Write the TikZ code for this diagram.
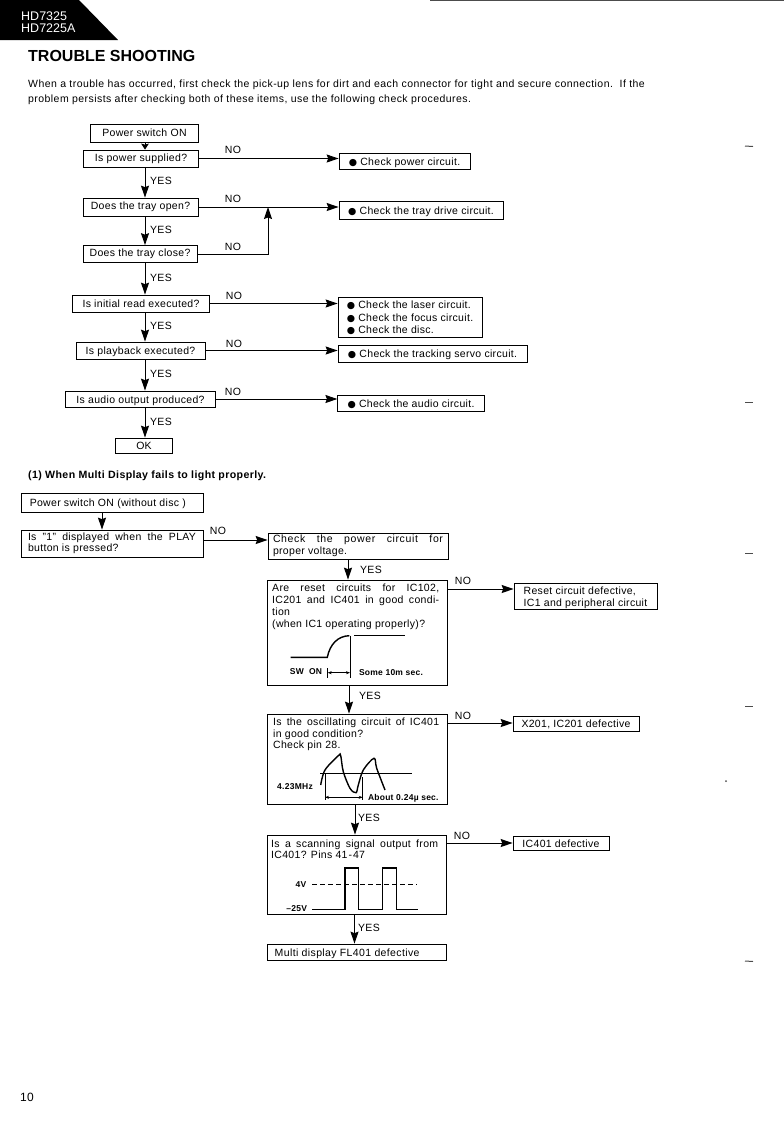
\documentclass[tikz,border=0pt]{standalone}
\usepackage{fontspec}
\setmainfont[LetterSpace=3]{Liberation Sans}
\newfontfamily\symfont{DejaVu Sans}
\newfontfamily\plainfont{Liberation Sans}
\newfontfamily\widefont[LetterSpace=6]{Liberation Sans}
\usetikzlibrary{arrows.meta}
\newcommand{\blt}{{\symfont\fontsize{9.5}{10}\selectfont ●}\ }
\newcommand{\fitline}[2]{\makebox[#1pt][s]{#2}}
\tikzset{
  box/.style={draw, line width=0.7pt, inner sep=0pt, align=center, font=\fontsize{10.5}{12}\selectfont},
  ans/.style={box, text height=9.5pt, text depth=1.5pt},
  boxtext/.style={inner sep=0pt, align=left, anchor=north west},
  lab/.style={inner sep=0pt, font=\fontsize{10.5}{12}\selectfont},
  smalllab/.style={inner sep=0pt, font=\fontsize{8.5}{10}\bfseries\selectfont},
  flow/.style={line width=1pt, -{Stealth[length=12pt,width=8pt,inset=1.5pt]}},
  shortflow/.style={line width=1pt, -{Stealth[length=6pt,width=7.5pt,inset=1pt]}},
  dim/.style={line width=0.6pt, {Stealth[length=4pt,width=3pt]}-{Stealth[length=4pt,width=3pt]}},
  wave/.style={line width=1.4pt},
  scanmark/.style={line width=1pt, black!70}
}
\begin{document}
\begin{tikzpicture}[x=1pt,y=-1pt]
\useasboundingbox (0,0) rectangle (784,1122);

% header
\fill[black] (0,0) -- (79,0) -- (118,40) -- (0,40) -- cycle;
\node[inner sep=0pt, align=left, anchor=west, text=white, font=\plainfont\fontsize{12.5}{11.5}\selectfont] (model) at (21,22) {HD7325\\HD7225A};
\node[inner sep=0pt, anchor=west, font=\plainfont\fontsize{16}{18}\bfseries\selectfont] (title) at (28,56) {TROUBLE SHOOTING};
\node[inner sep=0pt, anchor=north west, align=left, font=\fontsize{10.5}{15}\selectfont] (intro) at (28,79.5)
{\addfontfeature{LetterSpace=4.2}When a trouble has occurred, first check the pick-up lens for dirt and each connector for tight and secure connection.\ \ If the\\
\addfontfeature{LetterSpace=4.2}problem persists after checking both of these items, use the following check procedures.};

% first chart
\coordinate (main) at (145,0);
\node[box, minimum width=108pt, minimum height=18pt] (power) at (144.5,133) {Power switch ON};
\node[box, minimum width=114.5pt, minimum height=17pt] (supply) at (141,158.5) {Is power supplied?};
\node[box, minimum width=115pt, minimum height=18pt] (open) at (140.5,207) {Does the tray open?};
\node[box, minimum width=114pt, minimum height=17pt] (close) at (140,254) {Does the tray close?};
\node[box, minimum width=136.5pt, minimum height=17pt] (read) at (141,303.5) {Is initial read executed?};
\node[ans, minimum width=129pt, minimum height=17pt] (play) at (140.5,350.5) {Is playback executed?};
\node[ans, minimum width=150.5pt, minimum height=16pt] (audio) at (140.5,399) {Is audio output produced?};
\node[box, minimum width=57.5pt, minimum height=15pt] (ok) at (144,445.5) {OK};

\node[ans, minimum width=131pt, minimum height=16pt] (fixpower) at (404.5,161) {\blt Check power circuit.};
\node[ans, minimum width=164pt, minimum height=18pt] (fixtray) at (421,210) {\blt Check the tray drive circuit.};
\node[box, minimum width=144pt, minimum height=40pt, font=\fontsize{10.5}{12.2}\selectfont, align=left] (fixread) at (410,317)
{\rule{0pt}{9.5pt}\blt Check the laser circuit.\\\blt Check the focus circuit.\\\blt Check the disc.};
\node[ans, minimum width=189pt, minimum height=17pt] (fixplay) at (432.5,353.5) {\blt Check the tracking servo circuit.};
\node[ans, minimum width=146.5pt, minimum height=16pt] (fixaudio) at (411,403) {\blt Check the audio circuit.};

\draw[shortflow] (power.south -| main) -- (supply.north -| main);
\draw[flow] (supply.south -| main) -- (open.north -| main);
\draw[flow] (open.south -| main) -- (close.north -| main);
\draw[flow] (close.south -| main) -- (read.north -| main);
\draw[flow] (read.south -| main) -- (play.north -| main);
\draw[flow] (play.south -| main) -- (audio.north -| main);
\draw[flow] (audio.south -| main) -- (ok.north -| main);

\draw[flow] (supply) -- (supply -| fixpower.west);
\draw[flow] (open) -- (open -| fixtray.west);
\coordinate (trayjoin) at (268,207);
\draw[flow] (close) -| (trayjoin);
\draw[flow] (read) -- (read -| fixread.west);
\draw[flow] (play) -- (play -| fixplay.west);
\draw[flow] (audio) -- (audio -| fixaudio.west);

\node[lab] (yes1) at (161,181) {YES};
\node[lab] (yes2) at (161,230) {YES};
\node[lab] (yes3) at (161,278) {YES};
\node[lab] (yes4) at (161,326) {YES};
\node[lab] (yes5) at (161,374) {YES};
\node[lab] (yes6) at (161,422) {YES};
\node[lab] (no1) at (233,150) {NO};
\node[lab] (no2) at (233,199) {NO};
\node[lab] (no3) at (233,247) {NO};
\node[lab] (no4) at (234,296) {NO};
\node[lab] (no5) at (234,344) {NO};
\node[lab] (no6) at (233,392) {NO};

% second chart
\node[inner sep=0pt, anchor=west, font=\fontsize{10.6}{12}\bfseries\selectfont] (multi) at (28,476) {\addfontfeature{LetterSpace=3.6}(1) When Multi Display fails to light properly.};

\node[ans, minimum width=182pt, minimum height=19pt, align=left] (powerb) at (112,502.5) {\fitline{168}{\,Power switch ON (without disc )\hfill}};
\node[box, minimum width=182pt, minimum height=27pt, align=left, font=\fontsize{10.5}{11}\selectfont] (played) at (112,543.5)
{\fitline{168}{Is "1" displayed when the PLAY}\\\fitline{168}{button is pressed?\hfill}};
\node[box, minimum width=180pt, minimum height=26pt, align=left, font=\widefont\fontsize{10.5}{12.5}\selectfont] (volt) at (358,546)
{\fitline{170}{Check the power circuit for}\\\fitline{170}{\addfontfeature{LetterSpace=3}proper voltage.\hfill}};
\node[box, minimum width=180pt, minimum height=105pt] (reset) at (357.5,632.5) {};
\node[box, minimum width=180pt, minimum height=90pt] (osc) at (357,759) {};
\node[box, minimum width=179pt, minimum height=79pt] (scan) at (356.5,874.5) {};
\node[ans, minimum width=179pt, minimum height=16pt, align=left] (display) at (356.5,952) {\fitline{170}{\ \addfontfeature{LetterSpace=3.6}Multi display FL401 defective\hfill}};

\node[boxtext, font=\fontsize{10.5}{12}\selectfont] (resettext) at (272,584)
{\fitline{167}{Are reset circuits for IC102,}\\\fitline{167}{IC201 and IC401 in good condi-}\\tion\\(when IC1 operating properly)?};
\node[boxtext, font=\fontsize{10.5}{11.3}\selectfont] (osctext) at (273,718)
{\fitline{166}{Is the oscillating circuit of IC401}\\in good condition?\\Check pin 28.};
\node[boxtext, font=\fontsize{10.5}{11}\selectfont] (scantext) at (271,839.5)
{\fitline{167}{Is a scanning signal output from}\\IC401? Pins 41{\kern1pt}-{\kern1pt}47};

\node[box, minimum width=143pt, minimum height=26pt, align=left, font=\fontsize{10.5}{12}\selectfont] (fixreset) at (585.5,596)
{\rule{0pt}{11pt}Reset circuit defective,\\IC1 and peripheral circuit};
\node[ans, minimum width=126pt, minimum height=15pt] (fixosc) at (576,723.5) {X201, IC201 defective};
\node[ans, minimum width=96pt, minimum height=14pt] (fixscan) at (561,843) {IC401 defective};

\coordinate (colb) at (102,0);
\coordinate (colc) at (348,0);
\coordinate (cold) at (349,0);
\coordinate (cole) at (355,0);
\coordinate (colf) at (354.5,0);
\coordinate (noplay) at (203,540);
\coordinate (noreset) at (447.5,589);
\coordinate (noosc) at (447,723);
\coordinate (noscan) at (446,843);

\draw[flow] (powerb.south -| colb) -- (played.north -| colb);
\draw[flow] (noplay) -- (noplay -| volt.west);
\draw[flow] (volt.south -| colc) -- (reset.north -| colc);
\draw[flow] (reset.south -| cold) -- (osc.north -| cold);
\draw[flow] (osc.south -| cole) -- (scan.north -| cole);
\draw[flow] (scan.south -| colf) -- (display.north -| colf);
\draw[flow] (noreset) -- (noreset -| fixreset.west);
\draw[flow] (noosc) -- (noosc -| fixosc.west);
\draw[flow] (noscan) -- (noscan -| fixscan.west);

\node[lab] (no7) at (218,531) {NO};
\node[lab] (no8) at (463,581) {NO};
\node[lab] (no9) at (463,716) {NO};
\node[lab] (no10) at (462,836) {NO};
\node[lab] (yes7) at (371,570) {YES};
\node[lab] (yes8) at (370,696) {YES};
\node[lab] (yes9) at (369,818) {YES};
\node[lab] (yes10) at (369,928) {YES};

% reset curve
\draw[wave] (290.7,657.3) -- (327.3,657.3) .. controls (330,644) and (338,636) .. (349.3,635.7);
\draw[line width=0.6pt] (354,635.7) -- (405,635.7);
\draw[line width=0.6pt] (350,635.7) -- (350,678.3);
\draw[line width=0.6pt] (327.7,668.3) -- (327.7,678.3);
\draw[dim] (327.7,672.7) -- (350,672.7);
\node[smalllab] (swon) at (306,672) {SW\ \ ON};
\node[smalllab] (resetdelay) at (391,672.3) {Some 10m sec.};

% oscillator curve
\draw[line width=0.6pt] (320,773.7) -- (411.7,773.7);
\draw[wave] plot[smooth, tension=0.55] coordinates {(320.7,785) (325,770) (338.3,755.7) (340.7,755.7) (343.3,771.7) (350,788.3) (356,792.7) (358.3,785) (363.3,770) (374,758.3) (376.7,768.3) (385,790)};
\draw[line width=0.6pt] (325,773) -- (325,800);
\draw[line width=0.6pt] (362.7,777) -- (362.7,800);
\draw[dim] (325,797.3) -- (362.7,797.3);
\node[smalllab] (freq) at (295,786.7) {4.23MHz};
\node[smalllab] (period) at (403.3,798.7) {About 0.24µ sec.};

% scanning pulses
\draw[line width=0.6pt, dash pattern=on 5pt off 3pt] (312.3,884.3) -- (416.7,884.3);
\draw[wave] (312.3,909.3) -- (345,909.3) -- (345,868) -- (358.3,868) -- (358.3,909.3) -- (382.7,909.3)
  -- (382.7,868) -- (396.7,868) -- (396.7,909.3) -- (418.3,909.3);
\node[smalllab] (highv) at (301,884.3) {4V};
\node[smalllab] (lowv) at (296.7,909) {--25V};

\node[inner sep=0pt, font=\fontsize{12}{14}\selectfont] (page) at (27,1097) {10};

% page edge marks
\draw[scanmark] (430,0.5) -- (784,0.5);
\draw[scanmark] (745,146) -- (753,146.5);
\draw[scanmark] (745,402) -- (753,402);
\draw[scanmark] (745,553) -- (753,553);
\draw[scanmark] (745,706) -- (753,706);
\draw[scanmark] (745,961) -- (753,961.5);
\fill[black!70] (726,781) circle (1pt);
\end{tikzpicture}
\end{document}
